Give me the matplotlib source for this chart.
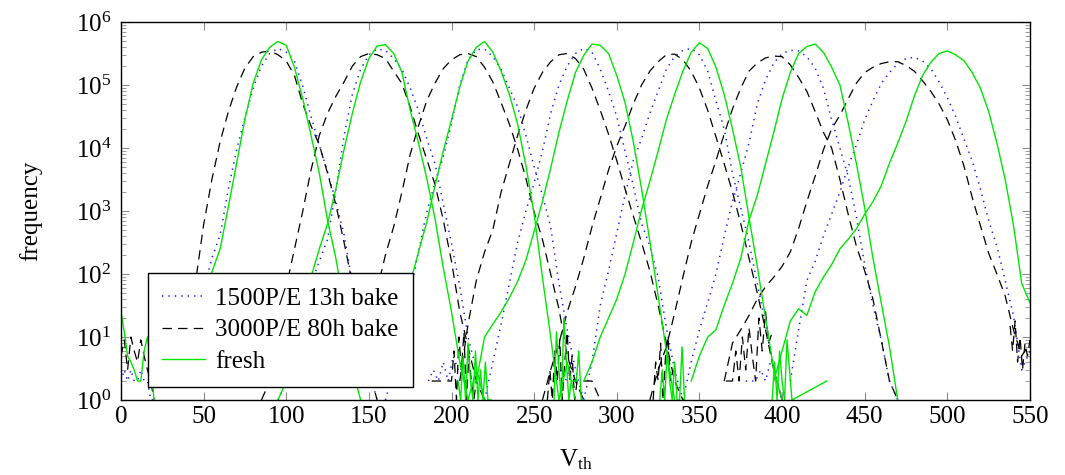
import numpy as np
import matplotlib
matplotlib.use("Agg")
import matplotlib.pyplot as plt
from matplotlib.ticker import LogLocator, NullLocator, NullFormatter

plt.rcParams["font.family"] = ["Liberation Serif", "DejaVu Serif"]
plt.rcParams["mathtext.fontset"] = "custom"
plt.rcParams["mathtext.rm"] = "Liberation Serif"
plt.rcParams["mathtext.it"] = "Liberation Serif:italic"
plt.rcParams["font.size"] = 18

# ------------------------------------------------------------
# Data read off the reference (V_th sampled every 5 units)
# each state has its own segment: start V_th + counts
# ------------------------------------------------------------
STEP = 5

tail_v = [0, 2, 4, 6, 8, 10, 12, 14, 16, 18, 20]

# fresh (green, solid)
fresh_tail = [25, 12, 5, 4, 3, 2, 2, 6, 10, 4, 1]
fresh_start = [35, 95, 160, 215, 280, 345, 395]
fresh_counts = [
    [2, 6, 18, 45, 107, 251, 1175, 5750, 28800, 107000, 251000, 398000, 490000,
     427000, 190000, 60300, 15800, 3980, 708, 178, 32, 3, 1],
    [1, 2, 6, 25, 89, 251, 631, 2240, 9550, 35500, 112000, 263000, 417000,
     437000, 316000, 158000, 39800, 12000, 3310, 759, 126, 25, 4, 1, 3, 1],
    [2, 6, 25, 71, 224, 661, 2510, 8910, 28200, 93300, 240000, 398000, 490000,
     331000, 166000, 70800, 24000, 5250, 891, 89, 10, 1, 4, 1],
    [2, 10, 16, 25, 42, 76, 166, 479, 1410, 4790, 17800, 56200, 158000, 295000,
     447000, 427000, 316000, 141000, 52500, 12600, 2240, 331, 45, 6, 1],
    [2, 4, 10, 20, 40, 100, 316, 1050, 2950, 8910, 28200, 70800, 166000, 331000,
     468000, 380000, 191000, 70800, 20000, 5010, 794, 132, 20, 3, 1],
    [2, 5, 10, 13, 32, 71, 178, 708, 1780, 5620, 17800, 60300, 158000, 316000,
     407000, 447000, 331000, 191000, 100000, 25100, 5620, 1120, 178, 35, 7, 1],
    [2, 6, 18, 28, 22, 52, 89, 141, 251, 355, 525, 891, 1410, 2510, 5750, 12000,
     26300, 66100, 141000, 229000, 316000, 347000, 302000, 245000, 158000,
     89100, 38000, 12000, 3160, 603, 71, 35],
]
# noisy counts near the floor between states
fresh_noise_v = [
    [204, 205.5, 207, 208.5, 210, 211.5, 213, 214.5, 216, 217.5, 219, 220.5, 222, 224],
    [262, 263.5, 265, 266.5, 268, 269.5, 271, 272.5, 274, 275.5, 277, 278.5, 280],
    [326, 327.5, 329, 330.5, 332, 333.5, 335, 336.5, 338, 339.5, 341],
    [394, 395.5, 397, 398.5, 400, 401.5, 403, 404.5, 406, 427],
]
fresh_noise = [
    [2, 1, 5, 1, 8, 2, 1, 6, 1, 3, 1, 4, 1, 1],
    [1, 12, 3, 1, 20, 4, 1, 2, 2, 2, 6, 1, 1],
    [1, 3, 1, 6, 2, 1, 4, 1, 1, 7, 1],
    [1, 4, 1, 6, 2, 1, 9, 3, 1, 2],
]

# 3000P/E 80h bake (black, dashed)
baked_tail = [5, 9, 3, 10, 6, 4, 9, 5, 3, 2, 1]
baked_start = [30, 85, 145, 205, 255, 320, 365]
baked_counts = [
    [2, 5, 16, 71, 603, 3160, 12600, 38000, 93300, 186000, 282000, 331000,
     347000, 302000, 240000, 141000, 50100, 22400, 11200, 3980, 1260, 316, 71,
     13, 3, 1],
    [1, 2, 10, 63, 251, 1000, 4470, 15800, 35500, 66100, 112000, 200000, 282000,
     316000, 302000, 263000, 166000, 105000, 44700, 16600, 6610, 2630, 724, 158,
     25, 7, 2, 1],
    [3, 10, 56, 200, 562, 2000, 7940, 22400, 56200, 107000, 182000, 251000,
     302000, 316000, 282000, 191000, 112000, 52500, 24000, 9550, 3310, 955, 355,
     100, 28, 5, 2, 1],
    [2, 16, 79, 224, 501, 2000, 5620, 15800, 39800, 89100, 158000, 234000,
     302000, 316000, 263000, 178000, 89100, 39800, 16600, 6310, 2240, 832, 316,
     112, 32, 8, 2, 1],
    [1, 3, 8, 25, 63, 178, 562, 1580, 4470, 10700, 22400, 50100, 100000, 166000,
     234000, 302000, 309000, 251000, 166000, 89100, 39800, 15100, 5620, 2000,
     631, 178, 50, 13, 3, 1],
    [1, 3, 7, 24, 89, 316, 891, 2510, 6310, 16600, 41700, 89100, 166000, 224000,
     269000, 288000, 282000, 209000, 132000, 79400, 38000, 17800, 10000, 3160,
     891, 275, 112, 40, 9, 2, 1],
    [2, 8, 13, 22, 40, 63, 89, 132, 224, 525, 1410, 3550, 9330, 20000, 33100,
     60300, 107000, 158000, 191000, 219000, 234000, 234000, 204000, 166000,
     117000, 79400, 50100, 28200, 13200, 5250, 1660, 589, 214, 100, 45, 13, 5,
     8],
]
baked_noise_v = [
    [188, 195, 200, 201.5, 203, 204.5, 206, 207.5, 209, 210.5, 212, 213.5, 215],
    [258, 259.5, 261, 262.5, 264, 265.5, 267, 268.5, 270, 271.5, 273, 274.5,
     276, 280, 285, 290],
    [322, 323.5, 325, 326.5, 328, 329.5, 331, 332.5, 334],
    [366, 368, 370, 372, 374, 376, 378, 380, 382, 384, 386, 388, 390, 392, 394],
    [538, 539.5, 541, 542.5, 544, 545.5, 547, 548.5, 550],
]
baked_noise = [
    [2, 2, 2, 6, 1, 10, 3, 12, 1, 5, 2, 1, 2],
    [1, 3, 1, 6, 2, 9, 1, 4, 12, 2, 5, 1, 2, 2, 2, 1],
    [1, 4, 2, 8, 1, 5, 10, 2, 3],
    [2, 2, 2, 6, 2, 10, 3, 14, 5, 2, 20, 6, 25, 8, 12],
    [15, 6, 18, 4, 10, 3, 8, 5, 9],
]

# 1500P/E 13h bake (blue, dotted)
aged_tail = [2, 3, 2, 3, 2, 2, 3, 2, 2, 1, 1]
aged_start = [35, 95, 160, 220, 280, 340, 405]
aged_counts = [
    [2, 5, 16, 56, 178, 417, 2240, 9550, 30200, 89100, 200000, 316000, 380000,
     331000, 240000, 95500, 31600, 11200, 4170, 1410, 417, 71, 13, 3, 1],
    [1, 2, 8, 32, 71, 158, 355, 2140, 15800, 70800, 178000, 302000, 372000,
     355000, 263000, 178000, 89100, 39800, 14100, 5620, 1320, 302, 63, 10, 3, 1],
    [1, 3, 13, 50, 224, 955, 2820, 7240, 25100, 100000, 251000, 363000, 372000,
     282000, 178000, 89100, 44700, 15800, 5010, 1780, 562, 71, 13, 3, 1],
    [1, 4, 16, 71, 316, 1000, 2820, 8910, 35500, 100000, 200000, 316000, 380000,
     331000, 178000, 79400, 31600, 8910, 2510, 631, 282, 89, 14, 3, 1],
    [1, 4, 32, 112, 447, 1780, 6310, 14100, 35500, 79400, 178000, 282000,
     355000, 380000, 302000, 166000, 56200, 20000, 3980, 1120, 316, 71, 16, 3, 1],
    [1, 4, 13, 35, 100, 398, 1410, 3980, 12000, 50100, 120000, 224000, 316000,
     355000, 347000, 282000, 186000, 89100, 28200, 10000, 3550, 794, 141, 32, 9,
     2, 1],
    [2, 13, 79, 158, 398, 891, 2000, 5010, 11200, 28200, 56200, 105000, 158000,
     219000, 263000, 275000, 240000, 182000, 112000, 63100, 31600, 14100, 6310,
     2240, 708, 275, 79, 22, 3, 6],
]
aged_noise_v = [
    [140, 142, 144, 146, 148, 150],
    [186, 189, 192, 195, 198, 201, 204],
    [266, 269, 272, 275, 278],
    [378, 381, 384, 387, 390, 393],
]
aged_noise = [
    [3, 2, 4, 2, 3, 2],
    [2, 3, 2, 4, 2, 5, 3],
    [3, 2, 4, 2, 2],
    [2, 2, 2, 3, 2, 4],
]


def draw_series(ax, tail, starts, counts, noise_v, noise, label, **style):
    ax.plot(tail_v, tail, **style)
    for nv, nc in zip(noise_v, noise):
        ax.plot(nv, nc, **style)
    for i, (s, c) in enumerate(zip(starts, counts)):
        v = s + STEP * np.arange(len(c))
        ax.plot(v, c, label=label if i == 0 else None, **style)


fig = plt.figure(figsize=(10.65, 4.75), dpi=100)
ax = fig.add_axes([0.1136, 0.1579, 0.8535, 0.7958])

draw_series(ax, aged_tail, aged_start, aged_counts, aged_noise_v, aged_noise,
            "1500P/E 13h bake",
            color="#1a1aff", lw=1.1, linestyle=(0, (0.9, 3.3)))
draw_series(ax, baked_tail, baked_start, baked_counts, baked_noise_v, baked_noise,
            "3000P/E 80h bake",
            color="black", lw=0.9, linestyle=(0, (7.5, 5)))
draw_series(ax, fresh_tail, fresh_start, fresh_counts, fresh_noise_v, fresh_noise,
            "fresh",
            color="#00e600", lw=1.0)

ax.set_yscale("log")
ax.set_xlim(0, 550)
ax.set_ylim(1, 1e6)
ax.set_xticks(np.arange(0, 551, 50))
ax.xaxis.set_minor_locator(NullLocator())
ax.yaxis.set_major_locator(LogLocator(base=10, numticks=10))
ax.yaxis.set_minor_locator(LogLocator(base=10, subs=np.arange(2, 10), numticks=20))
ax.yaxis.set_minor_formatter(NullFormatter())
ax.xaxis.get_offset_text().set_visible(False)
ax.yaxis.get_offset_text().set_visible(False)

ax.tick_params(which="both", direction="in", top=True, right=True, color="0.55")
ax.tick_params(which="major", length=6, width=0.8)
ax.tick_params(axis="x", which="major", pad=4)
ax.tick_params(axis="y", which="major", pad=7)
ax.tick_params(which="minor", length=3.5, width=0.6)
for sp in ax.spines.values():
    sp.set_linewidth(1.0)

ax.set_xlabel(r"V$_{\mathrm{th}}$", labelpad=14)
ax.set_ylabel("frequency", labelpad=24)

leg = ax.legend(loc="lower left", bbox_to_anchor=(0.0297, 0.0344),
                borderaxespad=0, fancybox=False, edgecolor="black",
                framealpha=1, handlelength=1.75, handletextpad=0.4,
                labelspacing=0.37, borderpad=0.55)
leg.get_frame().set_linewidth(1.0)

fig.savefig("out.png", dpi=100)
